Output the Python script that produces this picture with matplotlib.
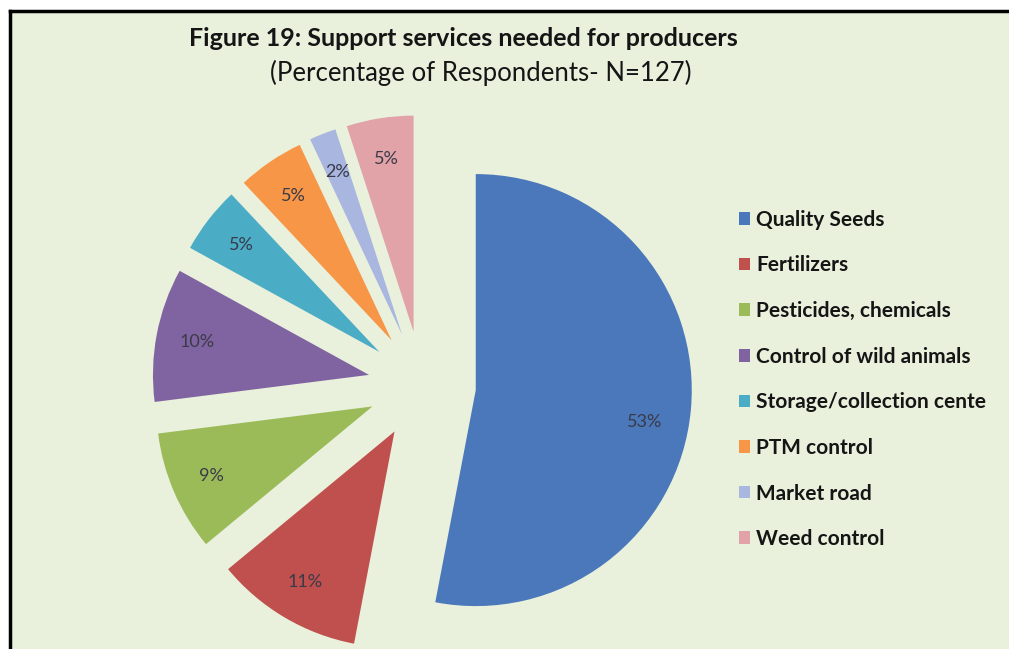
import matplotlib
matplotlib.use("Agg")
import matplotlib.pyplot as plt
from matplotlib.lines import Line2D

# support services wanted by producers, % of respondents (N=127)
services = ["Quality Seeds", "Fertilizers", "Pesticides, chemicals",
            "Control of wild animals", "Storage/collection cente",
            "PTM control", "Market road", "Weed control"]
shares = [53, 11, 9, 10, 5, 5, 2, 5]
colors = ["#4A78BA", "#C0504D", "#9BBB59", "#8064A2",
          "#4BACC6", "#F79646", "#A8B6E0", "#E1A2A8"]

bg = "#E9F0DC"
W, H = 1009, 649

fig = plt.figure(figsize=(W / 100, H / 100), dpi=100)
fig.patch.set_facecolor("white")
ax = fig.add_axes([0, 0, 1, 1])

# pixel-like coordinates, y measured from the bottom
radius = 216
wedges, texts, autotexts = ax.pie(
    shares,
    colors=colors,
    startangle=90,
    counterclock=False,
    radius=radius,
    center=(422, H - 385),
    explode=[54] * len(shares),
    autopct="%.0f%%",
    pctdistance=0.81,
    wedgeprops=dict(linewidth=0),
    textprops=dict(fontsize=13, color="#3A3A48", family="Lato"),
)
# the big slice's label sits a bit lower and further in
x0, y0 = autotexts[0].get_position()
autotexts[0].set_position((x0 - 5, y0 - 15))

ax.axis("off")
ax.set_aspect("auto")
ax.set_xlim(0, W)
ax.set_ylim(0, H)

# chart area: only the left and top edges of the frame fall inside the crop
ax.add_patch(plt.Rectangle((10, 0), W, H - 11, facecolor=bg, edgecolor="none", zorder=0))
ax.add_line(Line2D([10, 10], [0, H - 11], color="black", lw=2.5, zorder=5))
ax.add_line(Line2D([10, W], [H - 11, H - 11], color="black", lw=2.5, zorder=5))

ax.text(463, H - 39, "Figure 19: Support services needed for producers",
        ha="center", va="center", fontsize=18, fontweight="bold", family="Lato", color="#151515")
ax.text(481, H - 73, "(Percentage of Respondents- N=127)",
        ha="center", va="center", fontsize=18.5, family="Lato", color="#151515")

leg = ax.legend(wedges, services, loc="upper left",
                bbox_to_anchor=(720 / W, 1 - 191 / H),
                frameon=False, handlelength=0.55, handleheight=0.55,
                handletextpad=0.28, labelspacing=1.23,
                prop=dict(family="Lato", weight="bold", size=15))
for t in leg.get_texts():
    t.set_color("#151515")

fig.savefig("out.png", dpi=100, facecolor=fig.get_facecolor())
